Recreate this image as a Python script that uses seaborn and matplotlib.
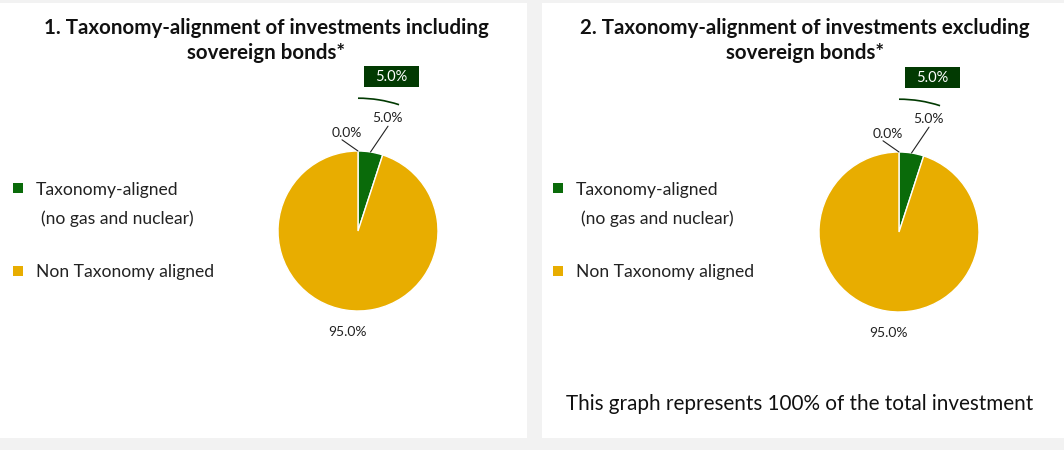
import numpy as np
import matplotlib.pyplot as plt
import matplotlib.patches as mpatches
import seaborn as sns

# chart data
categories = ["Taxonomy-aligned: fossil gas and nuclear",
              "Taxonomy-aligned (no gas and nuclear)",
              "Non Taxonomy aligned"]
incl_values = [0.0, 5.0, 95.0]
excl_values = [0.0, 5.0, 95.0]
aligned_totals = [5.0, 5.0]
titles = ["1. Taxonomy-alignment of investments including\nsovereign bonds*",
          "2. Taxonomy-alignment of investments excluding\nsovereign bonds*"]
legend_lines = ["Taxonomy-aligned", "(no gas and nuclear)", "Non Taxonomy aligned"]
footer = "This graph represents 100% of the total investment"

sns.set_theme(style="white")
plt.rcParams['font.family'] = ['Lato', 'DejaVu Sans']

green = "#0a6b0a"
gold = "#e8ad00"
dark = "#023a02"
colors = ["#5a8a3a", green, gold]

W, H = 1064, 450
fig = plt.figure(figsize=(W / 100, H / 100), dpi=100)
fig.patch.set_facecolor("#f2f2f2")

# white panels (behind the axes)
for x0, x1 in [(0, 527), (542, 1064)]:
    fig.patches.append(mpatches.Rectangle((x0 / W, 12 / H), (x1 - x0) / W, 435 / H,
                                          transform=fig.transFigure, facecolor="white",
                                          edgecolor="none", zorder=-1))

panels = [
    dict(values=incl_values, total=aligned_totals[0], title=titles[0], tx=266,
         cx=358, cy=219, lx=13),
    dict(values=excl_values, total=aligned_totals[1], title=titles[1], tx=805,
         cx=899, cy=218, lx=553),
]

S = 360  # axes size in px, 80 px per unit
for p in panels:
    fig.text(p["tx"] / W, 1 - 18 / H, p["title"], ha="center", va="top",
             fontsize=14.8, fontweight="bold", color="#111111", linespacing=1.3)

    ax = fig.add_axes([(p["cx"] - S / 2) / W, (p["cy"] - S / 2) / H, S / W, S / H])
    wedges, _ = ax.pie(p["values"], startangle=90, counterclock=False, colors=colors,
                       wedgeprops=dict(edgecolor="white", linewidth=1))
    ax.set_xlim(-2.25, 2.25)
    ax.set_ylim(-2.25, 2.25)
    ax.set_aspect("equal")
    ax.axis("off")

    # 0.0% label (left of top)
    a0 = np.deg2rad(wedges[0].theta1)
    ax.plot([-0.2, np.cos(a0)], [1.14, np.sin(a0)], color="#222222", lw=0.8, clip_on=False)
    ax.text(-0.14, 1.225, f"{p['values'][0]:.1f}%", ha="center", va="center",
            fontsize=10, color="#222222")

    # 5.0% label
    w1 = wedges[1]
    a1 = np.deg2rad((w1.theta1 + w1.theta2) / 2)
    ax.plot([0.375, np.cos(a1)], [1.31, np.sin(a1)], color="#222222", lw=0.8, clip_on=False)
    ax.text(0.37, 1.41, f"{p['values'][1]:.1f}%", ha="center", va="center",
            fontsize=10, color="#222222")

    # 95.0% label
    w2 = wedges[2]
    a2 = np.deg2rad((w2.theta1 + w2.theta2) / 2)
    ax.text(1.28 * np.cos(a2) + 0.07, 1.28 * np.sin(a2), f"{p['values'][2]:.1f}%",
            ha="center", va="center", fontsize=10, color="#222222")

    # total aligned callout with arc
    ax.add_patch(mpatches.Arc((0, 0), 3.32, 3.32, theta1=w1.theta1, theta2=90,
                              color=dark, lw=1.2, clip_on=False))
    ax.add_patch(mpatches.Rectangle((0.075, 1.8), 0.69, 0.265, facecolor=dark,
                                    edgecolor="none", clip_on=False))
    ax.text(0.42, 1.925, f"{p['total']:.1f}%", ha="center", va="center",
            fontsize=10.5, color="white")

    # legend
    lx = p["lx"]
    fig.patches.append(mpatches.Rectangle((lx / W, 1 - 193 / H), 10 / W, 10 / H,
                                          transform=fig.transFigure, facecolor=green,
                                          edgecolor="none"))
    fig.patches.append(mpatches.Rectangle((lx / W, 1 - 276 / H), 10 / W, 10 / H,
                                          transform=fig.transFigure, facecolor=gold,
                                          edgecolor="none"))
    fig.text((lx + 23) / W, 1 - 190 / H, legend_lines[0], ha="left", va="center",
             fontsize=12.6, color="#222222")
    fig.text((lx + 28) / W, 1 - 219 / H, legend_lines[1], ha="left", va="center",
             fontsize=12.6, color="#222222")
    fig.text((lx + 23) / W, 1 - 272 / H, legend_lines[2], ha="left", va="center",
             fontsize=12.6, color="#222222")

fig.text(800 / W, 1 - 404 / H, footer, ha="center", va="center",
         fontsize=14.9, color="#111111")

fig.savefig("out.png", dpi=100, facecolor=fig.get_facecolor())
